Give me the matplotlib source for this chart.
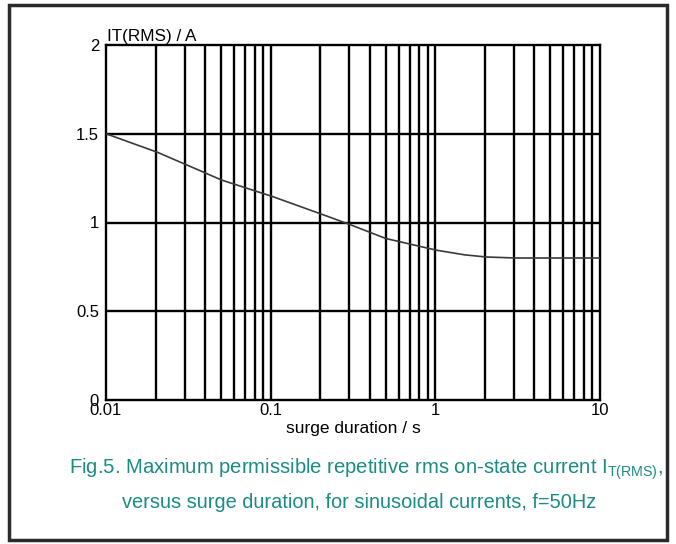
import numpy as np
import matplotlib.pyplot as plt
from matplotlib.patches import Rectangle
from matplotlib.ticker import FixedLocator, NullFormatter

plt.rcParams['font.family'] = ['Liberation Sans', 'DejaVu Sans']
plt.rcParams['mathtext.fontset'] = 'custom'
plt.rcParams['mathtext.rm'] = 'Liberation Sans'

# curve
duration = [0.01, 0.02, 0.03, 0.05, 0.1, 0.2, 0.3, 0.5, 1.0, 1.5, 2.0, 3.0, 5.0, 10.0]
current = [1.50, 1.40, 1.33, 1.24, 1.15, 1.05, 0.99, 0.91, 0.845, 0.818, 0.806, 0.80, 0.80, 0.80]

x_ticks = [0.01, 0.1, 1, 10]
x_labels = ['0.01', '0.1', '1', '10']
y_ticks = [0, 0.5, 1, 1.5, 2]
y_labels = ['0', '0.5', '1', '1.5', '2']

teal = '#1b8c84'

fig = plt.figure(figsize=(6.76, 5.44), dpi=100)
ax = fig.add_axes([106 / 676, 1 - 400 / 544, (600 - 106) / 676, (400 - 45) / 544])

ax.set_xscale('log')
ax.set_xlim(0.01, 10)
ax.set_ylim(0, 2)

# smooth the curve in log space
lx = np.log10(duration)
fine = np.linspace(lx[0], lx[-1], 300)
ax.plot(10 ** fine, np.interp(fine, lx, current), color='#3a3a3a', lw=1.2, zorder=3)

minor = [m * 10.0 ** e for e in (-2, -1, 0) for m in range(2, 10)]
for v in minor + x_ticks[1:-1]:
    ax.axvline(v, color='black', lw=1.7, zorder=2)
for v in y_ticks[1:-1]:
    ax.axhline(v, color='black', lw=1.7, zorder=2)

ax.xaxis.set_major_locator(FixedLocator(x_ticks))
ax.xaxis.set_minor_locator(FixedLocator(minor))
ax.xaxis.set_minor_formatter(NullFormatter())
ax.set_xticklabels(x_labels)
ax.set_yticks(y_ticks)
ax.set_yticklabels(y_labels)
ax.tick_params(which='both', length=0, labelsize=12, pad=5)
ax.tick_params(axis='x', pad=2)
for s in ax.spines.values():
    s.set_linewidth(1.7)

ax.set_xlabel('surge duration / s', fontsize=12.5, labelpad=2)
ax.text(0.002, 1.004, 'IT(RMS) / A', transform=ax.transAxes, fontsize=12.3,
        ha='left', va='bottom')

fig.text(366 / 676, 1 - 469 / 544, r'Fig.5. Maximum permissible repetitive rms on-state current I$_\mathrm{T(RMS)}$,',
         color=teal, fontsize=14.6, ha='center', va='center')
fig.text(359 / 676, 1 - 503 / 544, 'versus surge duration, for sinusoidal currents, f=50Hz',
         color=teal, fontsize=14.4, ha='center', va='center')

fig.patches.append(Rectangle((9 / 676, 1 - 540 / 544), 658 / 676, 535 / 544,
                             transform=fig.transFigure, fill=False,
                             edgecolor='#2a2a2a', lw=2.5))

fig.savefig('out.png', dpi=100)
